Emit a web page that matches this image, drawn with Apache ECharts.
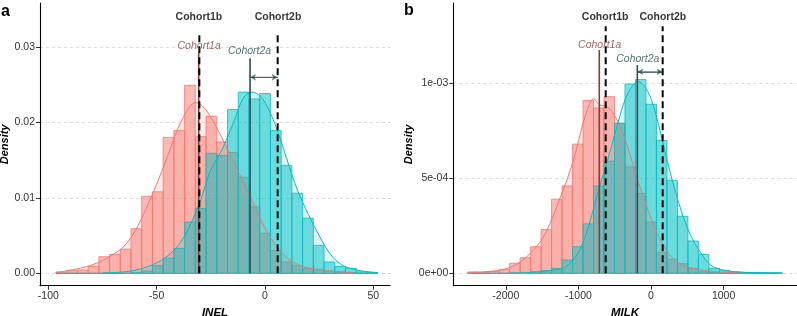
<!DOCTYPE html>
<html>
<head>
<meta charset="utf-8">
<script src="https://cdn.jsdelivr.net/npm/echarts@6/dist/echarts.min.js"></script>
<style>
html, body { margin: 0; padding: 0; background: #fff; }
#chart { width: 797px; height: 316px; }
</style>
</head>
<body>
<div id="chart"></div>
<script>
// ---- panel a: INEL ----
const inelBinStart = -96.5
const inelBinWidth = 4.95
const inelCohort1 = [0.00018, 0.00035, 0.00044, 0.00093, 0.0022, 0.0025, 0.0032, 0.0059, 0.0102, 0.0108,
  0.0180, 0.0189, 0.0249, 0.0181, 0.0208, 0.0174, 0.0160, 0.0127, 0.0088, 0.0053,
  0.0030, 0.0015, 0.0010, 0.00066, 0.00044, 0.0003, 0.00018, 0.0001, 0, 0]
const inelCohort2 = [0, 0, 0, 0, 0, 0, 0, 0.0001, 0.0003, 0.0010,
  0.0020, 0.0033, 0.0068, 0.0086, 0.0159, 0.0156, 0.0217, 0.0240, 0.0231, 0.0238,
  0.0189, 0.0143, 0.0106, 0.0073, 0.0037, 0.0015, 0.0009, 0.00066, 0.0002, 0.0001]
const inelDens1 = [[-96.5, 0.0001], [-90, 0.0004], [-85, 0.0007], [-80, 0.0011], [-75, 0.0017], [-70, 0.0025],
  [-65, 0.0036], [-60, 0.0056], [-55, 0.0085], [-50, 0.0118], [-45, 0.0155], [-40, 0.0193], [-35, 0.0220],
  [-32, 0.0226], [-29, 0.0222], [-25, 0.0207], [-20, 0.0180], [-15, 0.0151], [-10, 0.0121], [-5, 0.0090],
  [0, 0.0060], [5, 0.0037], [10, 0.0021], [15, 0.0012], [20, 0.0007], [25, 0.0005], [30, 0.0003],
  [35, 0.0002], [41, 0.0001]]
const inelDens2 = [[-75, 0.00005], [-70, 0.0001], [-65, 0.0002], [-60, 0.0004], [-55, 0.0008], [-50, 0.0014],
  [-45, 0.0023], [-40, 0.0037], [-35, 0.0061], [-30, 0.0095], [-25, 0.0137], [-20, 0.0163],
  [-15, 0.0196], [-10, 0.0232], [-6, 0.0240], [-2, 0.0234], [2, 0.0215], [6, 0.0187], [10, 0.0152],
  [15, 0.0110], [20, 0.0078], [25, 0.0050], [30, 0.0026], [35, 0.0012], [40, 0.0006], [45, 0.0003], [52, 0.0001]]
const inelTicksX = [-100, -50, 0, 50]
const inelTicksY = [0, 0.01, 0.02, 0.03]
const inelLabelsY = ['0.00', '0.01', '0.02', '0.03']
const inelRefs = { c1a: -30.6, c1b: -30.3, c2a: -6.9, c2b: 5.85 }

// ---- panel b: MILK ----
const milkBinStart = -2525
const milkBinWidth = 144.45
const milkCohort1 = [0.000007, 0.000005, 0.00001, 0.000021, 0.000053, 0.000082, 0.00014, 0.00023, 0.00039, 0.00046,
  0.00068, 0.00091, 0.00087, 0.00093, 0.00079, 0.00056, 0.00042, 0.00027, 0.00011, 0.000075,
  0.00005, 0.000025, 0.00001, 0.000005, 0, 0, 0, 0, 0, 0]
const milkCohort2 = [0, 0, 0, 0, 0.000003, 0.000005, 0.000008, 0.000014, 0.000026, 0.00007,
  0.00014, 0.00026, 0.00046, 0.00059, 0.00079, 0.000996, 0.00102, 0.00089, 0.0007, 0.00049,
  0.0003, 0.00017, 0.0001, 0.000026, 0.000014, 0.000007, 0.000003, 0.000003, 0.000003, 0.000003]
const milkDens1 = [[-2490, 0.000004], [-2300, 0.000008], [-2100, 0.000015], [-1950, 0.00003], [-1800, 0.00006],
  [-1650, 0.00011], [-1500, 0.00018], [-1350, 0.0003], [-1250, 0.0004], [-1150, 0.00050], [-1050, 0.00062],
  [-950, 0.00077], [-850, 0.00089], [-790, 0.00092], [-720, 0.00089], [-650, 0.00088], [-580, 0.00087],
  [-500, 0.00083], [-400, 0.00075], [-300, 0.00064], [-200, 0.00051], [-100, 0.0004], [0, 0.00029],
  [100, 0.0002], [200, 0.00013], [300, 0.00008], [450, 0.00004], [600, 0.000025], [800, 0.000012],
  [1000, 0.000006], [1200, 0.000003], [1400, 0.000001]]
const milkDens2 = [[-1700, 0.000003], [-1400, 0.000015], [-1200, 0.00003], [-1050, 0.00008], [-950, 0.00015],
  [-850, 0.00026], [-750, 0.0004], [-650, 0.00053], [-550, 0.00066], [-450, 0.00080], [-350, 0.00092],
  [-250, 0.00099], [-180, 0.00101], [-100, 0.00099], [0, 0.00092], [100, 0.00079], [200, 0.00063],
  [300, 0.00048], [400, 0.00035], [500, 0.00024], [600, 0.00016], [700, 0.0001], [800, 0.00005],
  [900, 0.000028], [1050, 0.000013], [1250, 0.000006], [1500, 0.000003], [1780, 0.000001]]
const milkTicksX = [-2000, -1000, 0, 1000]
const milkTicksY = [0, 0.0005, 0.001]
const milkLabelsY = ['0e+00', '5e-04', '1e-03']
const milkRefs = { c1a: -712, c1b: -624, c2a: -188, c2b: 161 }

const RED = '#F8766D'
const CYAN = '#00BFC4'
const C1A = '#8B3A3A'
const C2A = '#2F4F4F'
const FONT = 'Liberation Sans, Arial, sans-serif'

function rgba(hex, a) {
  const n = parseInt(hex.slice(1), 16)
  return `rgba(${(n >> 16) & 255},${(n >> 8) & 255},${n & 255},${a})`
}

function histSeries(idx, start, width, heights, color, z) {
  return {
    type: 'custom',
    xAxisIndex: idx,
    yAxisIndex: idx,
    z,
    silent: true,
    data: heights.map((h, i) => [start + i * width, start + (i + 1) * width, h]),
    encode: { x: [0, 1], y: 2 },
    renderItem: (params, api) => {
      const p0 = api.coord([api.value(0), api.value(2)])
      const p1 = api.coord([api.value(1), 0])
      return {
        type: 'rect',
        shape: { x: p0[0], y: p0[1], width: p1[0] - p0[0], height: p1[1] - p0[1] },
        style: { fill: rgba(color, 0.5), stroke: color, lineWidth: 0.8 },
      }
    },
  }
}

function densSeries(idx, pts, color, z) {
  return {
    type: 'line',
    xAxisIndex: idx,
    yAxisIndex: idx,
    z,
    silent: true,
    data: pts,
    smooth: 0.35,
    symbol: 'none',
    lineStyle: { color, width: 1 },
    areaStyle: { color: rgba(color, 0.2) },
  }
}

function vline(idx, x, top, color, width, type, z) {
  return {
    type: 'line',
    xAxisIndex: idx,
    yAxisIndex: idx,
    z,
    silent: true,
    data: [[x, 0], [x, top]],
    symbol: 'none',
    lineStyle: { color, width, type, cap: 'butt' },
  }
}

function arrowSeries(idx, x1, x2, y) {
  return {
    type: 'line',
    xAxisIndex: idx,
    yAxisIndex: idx,
    z: 7,
    silent: true,
    data: [[x1, y], [x2, y]],
    symbol: 'none',
    lineStyle: { color: 'rgba(47,79,79,0.75)', width: 1 },
    markLine: {
      silent: true,
      symbol: ['arrow', 'arrow'],
      symbolSize: [5, 6],
      label: { show: false },
      lineStyle: { color: 'rgba(47,79,79,0.75)', width: 1, type: 'solid' },
      data: [[{ coord: [x1, y] }, { coord: [x2, y] }]],
    },
  }
}

function textSeries(idx, items) {
  return {
    type: 'scatter',
    xAxisIndex: idx,
    yAxisIndex: idx,
    z: 10,
    silent: true,
    symbolSize: 0,
    data: items.map((t) => ({
      value: [t.x, t.y],
      label: {
        show: true,
        position: 'inside',
        formatter: t.text,
        color: t.color,
        fontSize: 10.5,
        fontWeight: t.bold ? 'bold' : 'normal',
        fontStyle: t.bold ? 'normal' : 'italic',
        fontFamily: FONT,
      },
    })),
  }
}

function xAxisCfg(idx, min, max, ticks, name) {
  return {
    type: 'value',
    gridIndex: idx,
    min,
    max,
    name,
    nameLocation: 'middle',
    nameGap: 17,
    nameTextStyle: { fontStyle: 'italic', fontWeight: 'bold', fontSize: 11.5, color: '#000', fontFamily: FONT },
    axisLine: { onZero: false, lineStyle: { color: '#000', width: 1.1 } },
    axisTick: { customValues: ticks, length: 4, lineStyle: { color: '#333', width: 1 } },
    axisLabel: { customValues: ticks, fontSize: 10.5, color: '#333', margin: 5, fontFamily: FONT, formatter: (v) => String(v) },
    splitLine: { show: false },
  }
}

function yAxisCfg(idx, min, max, ticks, labels, gap) {
  return {
    type: 'value',
    gridIndex: idx,
    min,
    max,
    name: 'Density',
    nameLocation: 'middle',
    nameGap: gap,
    nameTextStyle: { fontStyle: 'italic', fontWeight: 'bold', fontSize: 11, color: '#000', fontFamily: FONT },
    axisLine: { onZero: false, lineStyle: { color: '#000', width: 1.1 } },
    axisTick: { customValues: ticks, length: 4, lineStyle: { color: '#333', width: 1 } },
    axisLabel: {
      customValues: ticks,
      fontSize: 10.5,
      color: '#333',
      margin: 5,
      fontFamily: FONT,
      formatter: (v) => {
        let best = 0
        ticks.forEach((t, i) => { if (Math.abs(t - v) < Math.abs(ticks[best] - v)) best = i })
        return labels[best]
      },
    },
    splitLine: { show: true, lineStyle: { color: '#d2d2d2', width: 0.8, type: [3, 3] } },
  }
}

const option = {
  animation: false,
  backgroundColor: '#fff',
  grid: [
    { left: 40, top: 3, width: 350, bottom: 30.3, outerBoundsMode: 'none', containLabel: false },
    { left: 453.3, top: 3, width: 343.4, bottom: 30.3, outerBoundsMode: 'none', containLabel: false },
  ],
  xAxis: [
    xAxisCfg(0, -103.85, 57.7, inelTicksX, 'INEL'),
    xAxisCfg(1, -2723, 2007, milkTicksX, 'MILK'),
  ],
  yAxis: [
    yAxisCfg(0, -0.00164, 0.0358, inelTicksY, inelLabelsY, 23),
    yAxisCfg(1, -0.0000653, 0.001423, milkTicksY, milkLabelsY, 33),
  ],
  graphic: [
    { type: 'text', left: 1, top: 4, style: { text: 'a', font: 'bold 16px ' + FONT, fill: '#000' } },
    { type: 'text', left: 404, top: 3, style: { text: 'b', font: 'bold 16px ' + FONT, fill: '#000' } },
  ],
  series: [
    // panel a
    histSeries(0, inelBinStart, inelBinWidth, inelCohort1, RED, 1),
    histSeries(0, inelBinStart, inelBinWidth, inelCohort2, CYAN, 2),
    densSeries(0, inelDens1, RED, 3),
    densSeries(0, inelDens2, CYAN, 4),
    vline(0, inelRefs.c1a, 0.02914, C1A, 1.6, 'solid', 5),
    vline(0, inelRefs.c1b, 0.0316, '#000', 2, [7, 4], 6),
    vline(0, inelRefs.c2a, 0.02848, C2A, 1.6, 'solid', 5),
    vline(0, inelRefs.c2b, 0.0316, '#000', 2, [7, 4], 6),
    arrowSeries(0, inelRefs.c2a, inelRefs.c2b, 0.02596),
    textSeries(0, [
      { x: -30.5, y: 0.03395, text: 'Cohort1b', color: '#000', bold: true },
      { x: 6, y: 0.03395, text: 'Cohort2b', color: '#000', bold: true },
      { x: -30.4, y: 0.03007, text: 'Cohort1a', color: C1A, bold: false },
      { x: -7.1, y: 0.0294, text: 'Cohort2a', color: C2A, bold: false },
    ]),
    // panel b
    histSeries(1, milkBinStart, milkBinWidth, milkCohort1, RED, 1),
    histSeries(1, milkBinStart, milkBinWidth, milkCohort2, CYAN, 2),
    densSeries(1, milkDens1, RED, 3),
    densSeries(1, milkDens2, CYAN, 4),
    vline(1, milkRefs.c1a, 0.001175, C1A, 1.6, 'solid', 5),
    vline(1, milkRefs.c1b, 0.0013, '#000', 2, [7, 4], 6),
    vline(1, milkRefs.c2a, 0.001096, C2A, 1.6, 'solid', 5),
    vline(1, milkRefs.c2b, 0.0013, '#000', 2, [7, 4], 6),
    arrowSeries(1, milkRefs.c2a, milkRefs.c2b, 0.001061),
    textSeries(1, [
      { x: -631, y: 0.00135, text: 'Cohort1b', color: '#000', bold: true },
      { x: 163, y: 0.00135, text: 'Cohort2b', color: '#000', bold: true },
      { x: -707, y: 0.0012, text: 'Cohort1a', color: C1A, bold: false },
      { x: -181, y: 0.00113, text: 'Cohort2a', color: C2A, bold: false },
    ]),
  ],
}

const myChart = echarts.init(document.getElementById('chart'))
myChart.setOption(option)
</script>
</body>
</html>
